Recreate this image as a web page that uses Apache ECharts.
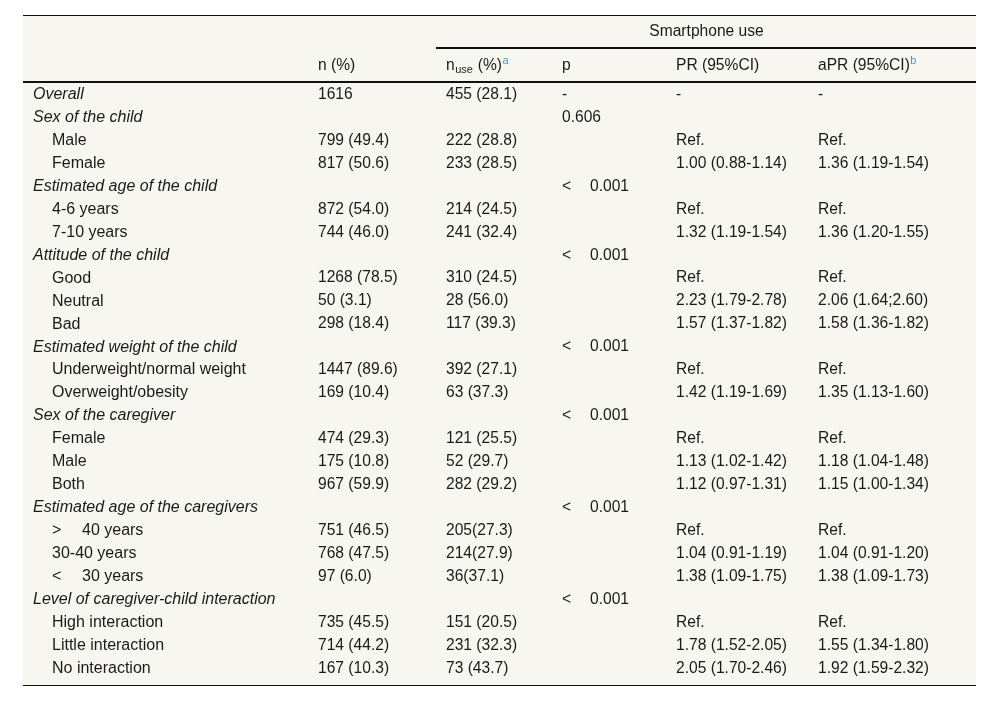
<!DOCTYPE html>
<html><head><meta charset="utf-8">
<script src="https://cdn.jsdelivr.net/npm/echarts@6/dist/echarts.min.js"></script>
<style>html,body{margin:0;padding:0;background:#fff}#c{width:1000px;height:701px}</style>
</head><body><div id="c"></div>
<script>
// ---------- DATA ----------
const rowLabels = ['Overall','Sex of the child','Male','Female','Estimated age of the child','4-6 years','7-10 years',
  'Attitude of the child','Good','Neutral','Bad','Estimated weight of the child','Underweight/normal weight','Overweight/obesity',
  'Sex of the caregiver','Female','Male','Both','Estimated age of the caregivers','> 40 years','30-40 years','< 30 years',
  'Level of caregiver-child interaction','High interaction','Little interaction','No interaction'];
const rowLevels = [0,0,1,1,0,1,1,0,1,1,1,0,1,1,0,1,1,1,0,1,1,1,0,1,1,1];
const nPct = ['1616','','799 (49.4)','817 (50.6)','','872 (54.0)','744 (46.0)','','1268 (78.5)','50 (3.1)','298 (18.4)','',
  '1447 (89.6)','169 (10.4)','','474 (29.3)','175 (10.8)','967 (59.9)','','751 (46.5)','768 (47.5)','97 (6.0)','',
  '735 (45.5)','714 (44.2)','167 (10.3)'];
const nUse = ['455 (28.1)','','222 (28.8)','233 (28.5)','','214 (24.5)','241 (32.4)','','310 (24.5)','28 (56.0)','117 (39.3)','',
  '392 (27.1)','63 (37.3)','','121 (25.5)','52 (29.7)','282 (29.2)','','205(27.3)','214(27.9)','36(37.1)','',
  '151 (20.5)','231 (32.3)','73 (43.7)'];
const pVal = ['-','0.606','','','< 0.001','','','< 0.001','','','','< 0.001','','','< 0.001','','','','< 0.001','','','',
  '< 0.001','','',''];
const prVal = ['-','','Ref.','1.00 (0.88-1.14)','','Ref.','1.32 (1.19-1.54)','','Ref.','2.23 (1.79-2.78)','1.57 (1.37-1.82)','',
  'Ref.','1.42 (1.19-1.69)','','Ref.','1.13 (1.02-1.42)','1.12 (0.97-1.31)','','Ref.','1.04 (0.91-1.19)','1.38 (1.09-1.75)','',
  'Ref.','1.78 (1.52-2.05)','2.05 (1.70-2.46)'];
const aprVal = ['-','','Ref.','1.36 (1.19-1.54)','','Ref.','1.36 (1.20-1.55)','','Ref.','2.06 (1.64;2.60)','1.58 (1.36-1.82)','',
  'Ref.','1.35 (1.13-1.60)','','Ref.','1.18 (1.04-1.48)','1.15 (1.00-1.34)','','Ref.','1.04 (0.91-1.20)','1.38 (1.09-1.73)','',
  'Ref.','1.55 (1.34-1.80)','1.92 (1.59-2.32)'];
const spanHeader = 'Smartphone use';
// header pieces: [text, kind] kind: '' normal, 'sub', 'sup'
const colHeaders = [
  [],
  [['n (%)','']],
  [['n',''],['use','sub'],[' (%)',''],['a','sup']],
  [['p','']],
  [['PR (95%CI)','']],
  [['aPR (95%CI)',''],['b','sup']]
];

// ---------- LAYOUT / STYLE ----------
const FAMILY = '"Liberation Sans", Arial, sans-serif';
const FONT = 15.6;
const LABEL_FONT = 16;
const SMALL = 11;
const TEXT = '#1a1a1a';
const NOTE = '#3a9ad9';
const BG = '#f8f6f0';
const COL_X = [33, 318, 446, 562, 676, 818];
const INDENT = 19, SYM_GAP = 30, P_GAP = 28;
const ROW0_Y = 94.5, ROW_H = 22.96;
const Y_MIN = -ROW0_Y / ROW_H, Y_MAX = Y_MIN + 701 / ROW_H;
const SPAN_ROW = (32 - ROW0_Y) / ROW_H, HEAD_ROW = (66 - ROW0_Y) / ROW_H;

const mctx = document.createElement('canvas').getContext('2d');
function measure(t, size, italic){ mctx.font = (italic?'italic ':'') + size + 'px ' + FAMILY; return mctx.measureText(t).width; }

function textEl(s, x, y, opt){
  opt = opt || {};
  return {type:'text', silent:true, style:{text:s, x:x, y:y, align:opt.align||'left', verticalAlign:'middle',
    fontSize:opt.size||FONT, fontFamily:FAMILY, fontStyle:opt.italic?'italic':'normal', fill:opt.fill||TEXT}};
}

function renderRow(params, api){
  const i = api.value(1);
  const y = api.coord([0, i])[1];
  const X = c => api.coord([COL_X[c], i])[0];
  const ch = [];
  const lvl = rowLevels[i];
  let lab = rowLabels[i];
  const lx = X(0) + (lvl ? INDENT : 0);
  const m = lab.match(/^([<>]) (.*)$/);
  if (m) { ch.push(textEl(m[1], lx, y, {size:LABEL_FONT})); ch.push(textEl(m[2], lx + SYM_GAP, y, {size:LABEL_FONT})); }
  else ch.push(textEl(lab, lx, y, {italic: lvl === 0, size:LABEL_FONT}));
  if (nPct[i]) ch.push(textEl(nPct[i], X(1), y));
  if (nUse[i]) ch.push(textEl(nUse[i], X(2), y));
  const pm = pVal[i].match(/^([<>]) (.*)$/);
  if (pm) { ch.push(textEl(pm[1], X(3), y)); ch.push(textEl(pm[2], X(3) + P_GAP, y)); }
  else if (pVal[i]) ch.push(textEl(pVal[i], X(3), y));
  if (prVal[i]) ch.push(textEl(prVal[i], X(4), y));
  if (aprVal[i]) ch.push(textEl(aprVal[i], X(5), y));
  return {type:'group', children:ch};
}

function renderHeader(params, api){
  const ch = [];
  const ys = api.coord([0, SPAN_ROW])[1];
  const xa = api.coord([COL_X[2] - 9, 0])[0], xb = api.coord([976, 0])[0];
  ch.push(textEl(spanHeader, (xa + xb) / 2, ys, {align:'center'}));
  const yh = api.coord([0, HEAD_ROW])[1];
  colHeaders.forEach((pieces, c) => {
    let x = api.coord([COL_X[c], 0])[0];
    pieces.forEach(([t, kind]) => {
      if (kind === 'sub') { ch.push(textEl(t, x + 0.5, yh + 4, {size:SMALL})); x += measure(t, SMALL) + 1; }
      else if (kind === 'sup') { ch.push(textEl(t, x + 0.5, yh - 5.5, {size:SMALL, fill:NOTE})); x += measure(t, SMALL) + 1; }
      else { ch.push(textEl(t, x, yh)); x += measure(t, FONT); }
    });
  });
  return {type:'group', children:ch};
}

const chart = echarts.init(document.getElementById('c'), null, {renderer:'canvas'});
chart.setOption({
  animation:false,
  backgroundColor:'#ffffff',
  grid:{left:0, right:0, top:0, bottom:0},
  xAxis:{type:'value', min:0, max:1000, show:false},
  yAxis:{type:'value', min:Y_MIN, max:Y_MAX, inverse:true, show:false},
  graphic:[
    {type:'rect', z:-10, shape:{x:23, y:15, width:953, height:670}, style:{fill:BG}},
    {type:'rect', z:1, shape:{x:23, y:15, width:953, height:1}, style:{fill:'#111'}},
    {type:'rect', z:1, shape:{x:436, y:47, width:540, height:2}, style:{fill:'#111'}},
    {type:'rect', z:1, shape:{x:23, y:81, width:953, height:2}, style:{fill:'#111'}},
    {type:'rect', z:1, shape:{x:23, y:685, width:953, height:1}, style:{fill:'#111'}}
  ],
  series:[
    {type:'custom', renderItem:renderHeader, data:[[0,0]], encode:{x:0,y:1}, clip:false, silent:true},
    {type:'custom', renderItem:renderRow, data:rowLabels.map((_, i) => [0, i]), encode:{x:0,y:1}, clip:false, silent:true}
  ]
});
</script></body></html>
